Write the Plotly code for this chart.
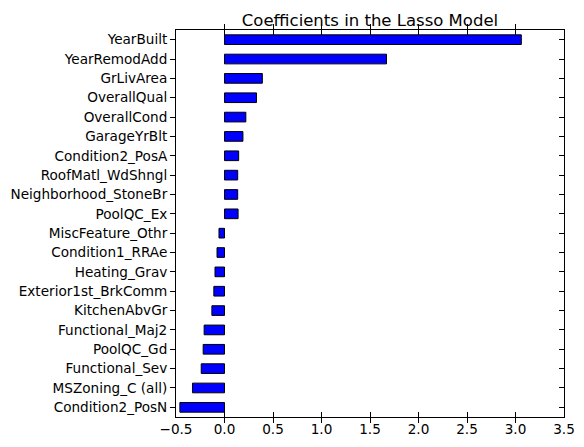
import plotly.graph_objects as go

# features ordered bottom -> top, as pandas barh draws them
features = [
    "Condition2_PosN", "MSZoning_C (all)", "Functional_Sev", "PoolQC_Gd",
    "Functional_Maj2", "KitchenAbvGr", "Exterior1st_BrkComm", "Heating_Grav",
    "Condition1_RRAe", "MiscFeature_Othr", "PoolQC_Ex", "Neighborhood_StoneBr",
    "RoofMatl_WdShngl", "Condition2_PosA", "GarageYrBlt", "OverallCond",
    "OverallQual", "GrLivArea", "YearRemodAdd", "YearBuilt",
]
coefs = [
    -0.46, -0.33, -0.24, -0.22,
    -0.21, -0.13, -0.11, -0.098,
    -0.077, -0.057, 0.14, 0.136,
    0.136, 0.146, 0.19, 0.22,
    0.33, 0.39, 1.67, 3.06,
]
x_ticks = [-0.5, 0.0, 0.5, 1.0, 1.5, 2.0, 2.5, 3.0, 3.5]

font = "DejaVu Sans, Liberation Sans, sans-serif"

fig = go.Figure()
fig.add_trace(go.Bar(
    x=coefs, y=features, orientation="h", width=0.5,
    marker=dict(color="#0000ff", line=dict(color="black", width=1)),
    showlegend=False,
))
# empty trace so the right-hand axis (inside ticks) gets drawn
fig.add_trace(go.Scatter(x=[], y=[], yaxis="y2", showlegend=False, hoverinfo="skip"))

# page body adds an 8px offset, so the figure is sized/margined to compensate
fig.update_layout(
    width=576, height=439,
    margin=dict(l=168, r=20, t=22, b=30, autoexpand=False),
    paper_bgcolor="white", plot_bgcolor="white",
    font=dict(family=font, size=13.6, color="black"),
    title=dict(text="Coefficients in the Lasso Model", x=0.5, xref="paper",
               xanchor="center", y=0.972, yanchor="middle",
               font=dict(size=16.5, color="black")),
    xaxis=dict(range=[-0.5, 3.5], tickvals=x_ticks,
               ticktext=[("\u2212" + f"{abs(v):.1f}") if v < 0 else f"{v:.1f}" for v in x_ticks],
               ticks="inside", ticklen=5, tickcolor="black", mirror="allticks",
               showline=True, linecolor="black", linewidth=1,
               showgrid=False, zeroline=False, automargin=False),
    yaxis=dict(categoryorder="array", categoryarray=features,
               range=[-0.5, len(features) - 0.5],
               ticks="outside", ticklen=5, tickcolor="black",
               showline=True, linecolor="black", linewidth=1, mirror=True,
               showgrid=False, zeroline=False, automargin=False),
    yaxis2=dict(overlaying="y", side="right", type="linear",
                range=[-0.5, len(features) - 0.5],
                tickvals=list(range(len(features))), showticklabels=False,
                ticks="inside", ticklen=5, tickcolor="black",
                showgrid=False, zeroline=False, showline=False, automargin=False),
)

fig.write_html("out.html")
